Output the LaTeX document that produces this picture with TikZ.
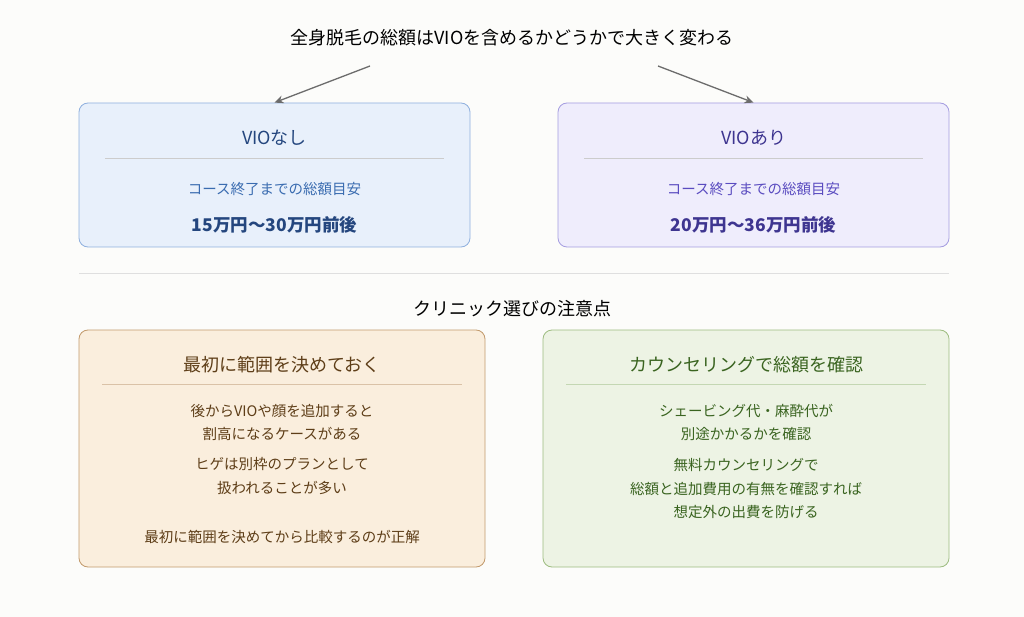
\documentclass[tikz,border=0pt]{standalone}
\usepackage{fontspec}
\setmainfont{Noto Sans CJK JP}
\usetikzlibrary{arrows.meta}
\definecolor{bg}{HTML}{FCFCFA}
\definecolor{bfill}{HTML}{E8F0FB}\definecolor{bline}{HTML}{8FB0DE}\definecolor{bdark}{HTML}{24467E}\definecolor{btext}{HTML}{3A6CB0}
\definecolor{pfill}{HTML}{EFEDFC}\definecolor{pline}{HTML}{A49CE0}\definecolor{pdark}{HTML}{3E3590}\definecolor{ptext}{HTML}{5A4CC0}
\definecolor{ofill}{HTML}{FAEEDD}\definecolor{oline}{HTML}{C29A6C}\definecolor{odark}{HTML}{5E3E18}
\definecolor{gfill}{HTML}{EDF3E4}\definecolor{gline}{HTML}{9DBC80}\definecolor{gdark}{HTML}{3A6420}
\tikzset{
 box/.style={draw,rounded corners=9pt,line width=0.8pt},
 ttl/.style={font=\fontsize{18}{22}\selectfont,anchor=center},
 btl/.style={font=\fontsize{18}{22}\selectfont,anchor=center},
 sub/.style={font=\fontsize{14.5}{18}\selectfont,anchor=center},
 big/.style={font=\bfseries\fontsize{17.5}{21}\selectfont,anchor=center},
 bod/.style={font=\fontsize{14.5}{18}\selectfont,anchor=center},
 arr/.style={draw=gray!85!black,line width=1.3pt,-{Stealth[length=9pt,width=8pt]}}
}
\begin{document}
\begin{tikzpicture}[x=1pt,y=-1pt]
\fill[bg] (0,0) rectangle (1024,617);
\useasboundingbox (0,0) rectangle (1024,617);
\node[ttl] (title) at (512,38) {全身脱毛の総額はVIOを含めるかどうかで大きく変わる};
\coordinate (a1) at (370,66); \coordinate (a2) at (658,66);
% box1
\node[box,draw=bline,fill=bfill,minimum width=391pt,minimum height=144pt] (b1) at (274.5,175) {};
\node[btl,text=bdark] (b1t) at (274.5,138) {VIOなし};
\draw[gray!40] (105,158) -- (444,158);
\node[sub,text=btext] (b1s) at (274.5,189) {コース終了までの総額目安};
\node[big,text=bdark] (b1v) at (274.5,225) {15万円〜30万円前後};
% box2
\node[box,draw=pline,fill=pfill,minimum width=391pt,minimum height=144pt] (b2) at (753.5,175) {};
\node[btl,text=pdark] (b2t) at (753.5,138) {VIOあり};
\draw[gray!40] (584,158) -- (923,158);
\node[sub,text=ptext] (b2s) at (753.5,189) {コース終了までの総額目安};
\node[big,text=pdark] (b2v) at (753.5,225) {20万円〜36万円前後};
\draw[arr] (a1) -- (b1.north);
\draw[arr] (a2) -- (b2.north);
\draw[gray!25] (79,273) -- (949,273);
\node[ttl] (sec) at (512,309) {クリニック選びの注意点};
% box3
\node[box,draw=oline,fill=ofill,minimum width=406pt,minimum height=237pt] (b3) at (282,448.5) {};
\node[btl,text=odark] (b3t) at (282,365) {最初に範囲を決めておく};
\draw[oline!60] (102,384) -- (462,384);
\node[bod,text=odark] (b3a) at (282,411) {後からVIOや顔を追加すると};
\node[bod,text=odark] (b3b) at (282,434) {割高になるケースがある};
\node[bod,text=odark] (b3c) at (282,464) {ヒゲは別枠のプランとして};
\node[bod,text=odark] (b3d) at (282,488) {扱われることが多い};
\node[bod,text=odark] (b3e) at (282,537) {最初に範囲を決めてから比較するのが正解};
% box4
\node[box,draw=gline,fill=gfill,minimum width=406pt,minimum height=237pt] (b4) at (746,448.5) {};
\node[btl,text=gdark] (b4t) at (746,365) {カウンセリングで総額を確認};
\draw[gline!60] (566,384) -- (926,384);
\node[bod,text=gdark] (b4a) at (746,411) {シェービング代・麻酔代が};
\node[bod,text=gdark] (b4b) at (746,434) {別途かかるかを確認};
\node[bod,text=gdark] (b4c) at (746,465) {無料カウンセリングで};
\node[bod,text=gdark] (b4d) at (746,489) {総額と追加費用の有無を確認すれば};
\node[bod,text=gdark] (b4e) at (746,512) {想定外の出費を防げる};
\end{tikzpicture}
\end{document}
